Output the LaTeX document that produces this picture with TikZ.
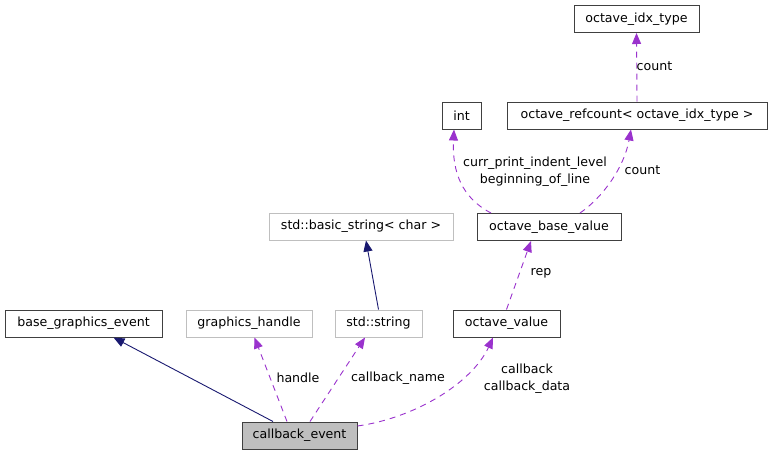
\documentclass[tikz,border=0pt]{standalone}
\usepackage{fontspec}
\setmainfont{DejaVu Sans}
\usetikzlibrary{arrows.meta}
\definecolor{edgeblue}{HTML}{191970}
\definecolor{edgepurple}{HTML}{9A32CD}
\definecolor{boxgray}{HTML}{BFBFBF}
\definecolor{boxdark}{HTML}{404040}
\begin{document}
\begin{tikzpicture}[x=1pt,y=-1pt,
  every node/.style={font=\fontsize{12.6}{17}\selectfont},
  cls/.style={draw=boxdark,line width=1pt,minimum height=27pt,inner sep=0pt,text=black},
  ext/.style={draw=boxgray,line width=1pt,minimum height=27pt,inner sep=0pt,text=black},
  cur/.style={cls,fill=boxgray},
  inherit/.style={draw=edgeblue,line width=0.9pt,-{Triangle[length=11pt,width=9pt]}},
  usage/.style={draw=edgepurple,line width=0.9pt,dash pattern=on 6pt off 5pt,-{Triangle[length=11pt,width=9pt]}},
  lbl/.style={align=center,inner sep=0pt,text=black}]
\useasboundingbox (0,0) rectangle (772,456);
\node[cls,minimum width=157pt] (bge) at (83.5,323.5) {base\_graphics\_event};
\node[ext,minimum width=126pt] (gh) at (249,323.5) {graphics\_handle};
\node[ext,minimum width=87pt] (ss) at (378.5,323.5) {std::string};
\node[cls,minimum width=107pt] (ov) at (506.5,323.5) {octave\_value};
\node[cur,minimum width=115pt] (cb) at (299.5,435.5) {callback\_event};
\node[ext,minimum width=184pt] (bs) at (361,226.5) {std::basic\_string< char >};
\node[cls,minimum width=144pt] (obv) at (549,227) {octave\_base\_value};
\node[cls,minimum width=39pt] (int) at (461.5,115.5) {int};
\node[cls,minimum width=260pt] (rc) at (637,115.5) {octave\_refcount< octave\_idx\_type >};
\node[cls,minimum width=125pt] (idx) at (636.5,19) {octave\_idx\_type};

\draw[inherit] ([xshift=-26.5pt]cb.north) -- ([xshift=30pt]bge.south);
\draw[usage] ([xshift=-12.5pt]cb.north) -- ([xshift=5.5pt]gh.south);
\draw[usage] ([xshift=10.5pt]cb.north) -- ([xshift=-13.5pt]ss.south);
\draw[usage] ([yshift=9.5pt]cb.east) .. controls (415,418) and (472,383) .. ([xshift=-13.5pt]ov.south);
\draw[inherit] (ss.north) -- ([xshift=5pt]bs.south);
\draw[usage] (ov.north) -- ([xshift=-18pt]obv.south);
\draw[usage] ([xshift=-58pt]obv.north) .. controls (462,198) and (452,172) .. ([xshift=-7.5pt]int.south);
\draw[usage] ([xshift=31pt]obv.north) .. controls (602,198) and (624,168) .. ([xshift=-6pt]rc.south);
\draw[usage] (rc.north) -- (idx.south);

\node[lbl] (l1) at (298,378) {handle};
\node[lbl] (l2) at (398,378) {callback\_name};
\node[lbl] (l3) at (527,378.5) {callback\\callback\_data};
\node[lbl] (l4) at (541,273) {rep};
\node[lbl] (l5) at (535,171.5) {curr\_print\_indent\_level\\beginning\_of\_line};
\node[lbl] (l6) at (642.5,170) {count};
\node[lbl] (l7) at (654.5,66.5) {count};
\end{tikzpicture}
\end{document}
